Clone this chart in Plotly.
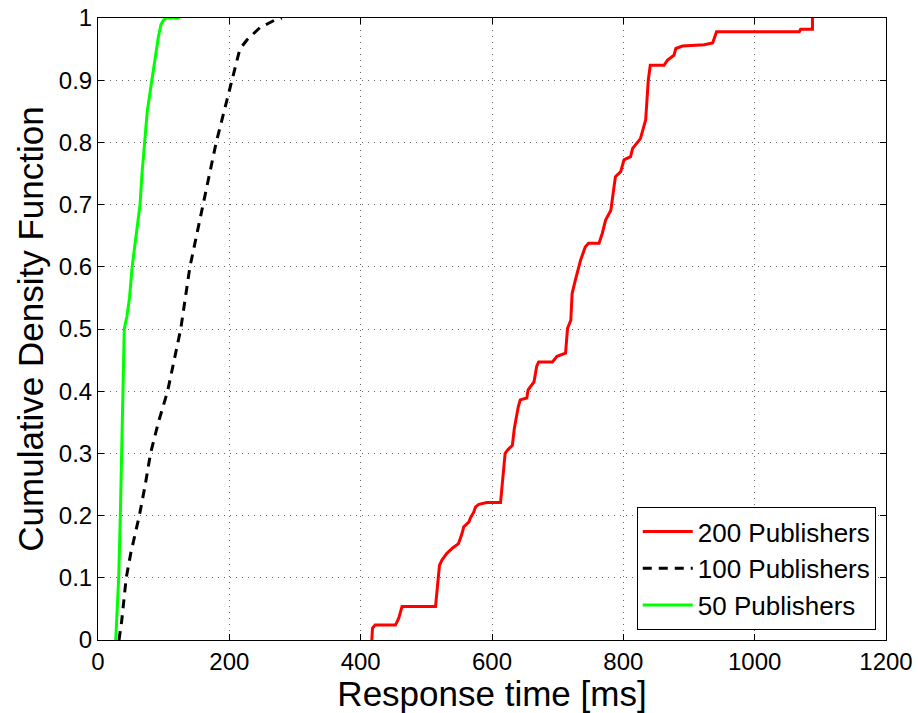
import plotly.graph_objects as go

# 200 Publishers (red)
red_x = [417, 418, 422, 453, 458, 463, 514, 517, 520, 524, 531, 540, 549, 554, 557, 565, 567, 572, 575, 580,
         592, 613, 616, 620, 625, 631, 634, 636, 640, 643, 653, 655, 664, 668, 671, 692, 699, 712, 715, 720,
         722, 727, 735, 742, 747, 763, 768, 773, 781, 786, 788, 796, 801, 811, 814, 826, 829, 834, 836, 838,
         841, 862, 867, 877, 880, 890, 923, 936, 942, 1068, 1070, 1088, 1088]
red_y = [0, 0.019, 0.024, 0.024, 0.035, 0.054, 0.054, 0.09, 0.12, 0.129, 0.139, 0.148, 0.155, 0.17, 0.182,
         0.19, 0.196, 0.205, 0.214, 0.218, 0.221, 0.221, 0.26, 0.30, 0.307, 0.313, 0.34, 0.354, 0.375, 0.386,
         0.389, 0.402, 0.415, 0.44, 0.447, 0.447, 0.456, 0.461, 0.501, 0.514, 0.557, 0.579, 0.611, 0.632,
         0.638, 0.638, 0.654, 0.675, 0.691, 0.73, 0.745, 0.753, 0.772, 0.777, 0.79, 0.806, 0.817, 0.836,
         0.868, 0.9, 0.924, 0.924, 0.932, 0.94, 0.951, 0.955, 0.957, 0.96, 0.978, 0.978, 0.982, 0.982, 1.0]

# 100 Publishers (black dashed)
black_x = [32, 36, 40, 43, 50, 63, 72, 80, 92, 106, 116, 126, 133, 140, 150, 160, 170, 180, 192, 204, 216,
           227, 237, 247, 257, 268, 280]
black_y = [0, 0.03, 0.07, 0.1, 0.14, 0.2, 0.25, 0.3, 0.35, 0.4, 0.45, 0.5, 0.55, 0.6, 0.65, 0.7, 0.75, 0.8,
           0.85, 0.9, 0.95, 0.965, 0.975, 0.985, 0.99, 0.996, 1.0]

# 50 Publishers (green)
green_x = [27, 29, 31.5, 34, 36, 38, 40, 44, 48, 52, 58, 64, 67, 71, 75, 82, 86, 92, 96, 100, 105, 125]
green_y = [0, 0.05, 0.1, 0.2, 0.3, 0.4, 0.5, 0.52, 0.55, 0.6, 0.65, 0.7, 0.75, 0.8, 0.85, 0.9, 0.93, 0.97,
           0.99, 0.997, 1.0, 1.0]

x_ticks = [0, 200, 400, 600, 800, 1000, 1200]
y_ticks = [0, 0.1, 0.2, 0.3, 0.4, 0.5, 0.6, 0.7, 0.8, 0.9, 1]
y_tick_labels = ["0", "0.1", "0.2", "0.3", "0.4", "0.5", "0.6", "0.7", "0.8", "0.9", "1"]

FONT = "Liberation Sans, Arial, Helvetica, sans-serif"

fig = go.Figure()
fig.add_trace(go.Scatter(x=red_x, y=red_y, mode="lines", name="200 Publishers",
                         line=dict(color="#ff0000", width=3)))
fig.add_trace(go.Scatter(x=black_x, y=black_y, mode="lines", name="100 Publishers",
                         line=dict(color="#000000", width=3, dash="9px,7px")))
fig.add_trace(go.Scatter(x=green_x, y=green_y, mode="lines", name="50 Publishers",
                         line=dict(color="#00ff00", width=3)))

axis_common = dict(
    showline=True, linecolor="black", linewidth=1, mirror="ticks",
    ticks="inside", ticklen=6, tickcolor="black", tickwidth=1,
    showgrid=True, gridcolor="#666666", griddash="1px,5px", gridwidth=1,
    zeroline=False, tickfont=dict(family=FONT, size=24, color="black"),
    ticklabeloverflow="allow",
)

fig.update_xaxes(range=[0, 1200], tickvals=x_ticks,
                 title=dict(text="Response time [ms]", font=dict(family=FONT, size=35, color="black"),
                            standoff=6),
                 **axis_common)
fig.update_yaxes(range=[0, 1], tickvals=y_ticks, ticktext=y_tick_labels,
                 title=dict(text="Cumulative Density Function", font=dict(family=FONT, size=35, color="black"),
                            standoff=4),
                 **axis_common)

fig.update_layout(
    width=918, height=713,
    margin=dict(l=98, r=32, t=18, b=73, autoexpand=False),
    plot_bgcolor="white", paper_bgcolor="white",
    font=dict(family=FONT, color="black"),
    legend=dict(x=0.987, y=0.016, xanchor="right", yanchor="bottom",
                bgcolor="white", bordercolor="black", borderwidth=1,
                font=dict(family=FONT, size=26, color="black"),
                itemwidth=50, tracegroupgap=0),
    showlegend=True,
)

# remove the default 8px page margin so the figure sits at the window's top-left corner
fig.write_html("out.html", config={"displayModeBar": False},
               post_script="document.body.style.margin='0';")
